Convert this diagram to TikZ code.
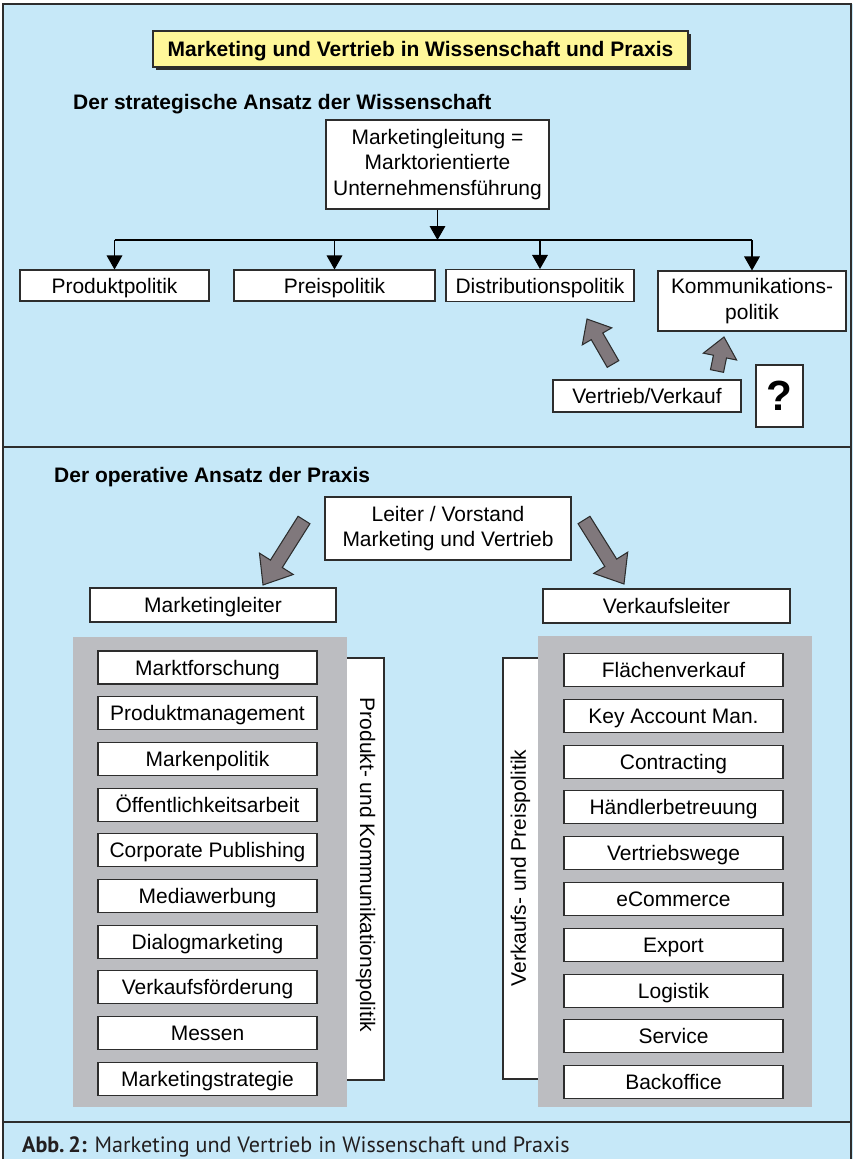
\documentclass[tikz,border=0pt]{standalone}
\usepackage{fontspec}
\setmainfont{Liberation Sans}
\newfontfamily\capfont{PT Sans}
\usetikzlibrary{arrows.meta,calc}
\definecolor{bgblue}{RGB}{198,232,248}
\definecolor{panelgrey}{RGB}{188,189,193}
\definecolor{arrowgrey}{RGB}{128,120,124}
\definecolor{titleyellow}{RGB}{255,247,153}
\definecolor{linegrey}{RGB}{45,45,45}
\definecolor{captext}{RGB}{35,31,32}
\newlength\pix
\setlength\pix{0.3mm}
\newcommand\diafont{\fontsize{17.9pt}{22pt}\selectfont}
\tikzset{
  box/.style={draw=linegrey,fill=white,line width=0.9pt,inner sep=0pt,align=center,font=\diafont},
  onebox/.style={box,text height=12.9pt,text depth=0pt},
  item/.style={onebox,minimum width=219\pix,minimum height=33\pix},
  tip/.style={line width=0.9pt,-{Triangle[length=4.2mm,width=4.7mm]}},
  fatarrow/.style={draw=linegrey,fill=arrowgrey,line width=0.9pt,line join=miter}
}
% fat grey arrow: from, to, half shaft, half head, head length
\newcommand\fatarrow[5]{%
  \path[fatarrow] let \p1=($(#2)-(#1)$), \n1={atan2(\y1,\x1)}, \n2={veclen(\x1,\y1)} in
    [shift={(#1)},rotate=\n1]
    (0pt,-#3) -- ({\n2-#5},-#3) -- ({\n2-#5},-#4) -- (\n2,0pt) -- ({\n2-#5},#4) -- ({\n2-#5},#3) -- (0pt,#3) -- cycle;}
\begin{document}
\begin{tikzpicture}[x=\pix,y=-\pix]
\useasboundingbox (0,0) rectangle (853,1159);
\fill[bgblue] (3,4) rectangle (853,1159);
\draw[linegrey,line width=1.2pt] (3,1170) -- (3,4) -- (851,4) -- (851,1170);
\draw[linegrey,line width=1.2pt] (3,447) -- (851,447);
\draw[linegrey,line width=1.2pt] (3,1122) -- (851,1122);

% Wissenschaft
\fill[linegrey] (156,34) rectangle (691,70);
\node[onebox,fill=titleyellow,font=\diafont\bfseries,minimum width=535\pix,minimum height=36\pix] (title) at (420.5,49) {Marketing und Vertrieb in Wissenschaft und Praxis};
\node[anchor=west,inner sep=0pt,font=\diafont\bfseries] (wiss) at (73,104) {Der strategische Ansatz der Wissenschaft};
\node[box,minimum width=223\pix,minimum height=89\pix] (mleit) at (437.5,164.5) {Marketingleitung =\\Marktorientierte\\Unternehmensführung};
\node[onebox,minimum width=189\pix,minimum height=31\pix] (prod) at (114.5,285.5) {Produktpolitik};
\node[onebox,minimum width=201\pix,minimum height=31\pix] (preis) at (334.5,285.5) {Preispolitik};
\node[onebox,minimum width=188\pix,minimum height=32\pix] (distr) at (540,285.5) {Distributionspolitik};
\node[box,minimum width=188\pix,minimum height=60\pix] (komm) at (752,301) {Kommunikations-\\politik};
\coordinate (bus) at (0,240);
\draw[tip] (mleit.south) -- (mleit.south |- bus);
\draw[line width=0.9pt] (prod.north |- bus) -- (komm.north |- bus);
\foreach \n in {prod,preis,distr,komm}
  \draw[tip] (\n.north |- bus) -- (\n.north);
\node[onebox,minimum width=188\pix,minimum height=32\pix] (vertr) at (647,396) {Vertrieb/Verkauf};
\node[box,minimum width=47\pix,minimum height=62\pix,font=\fontsize{36pt}{36pt}\bfseries] (quest) at (779.5,396) {?};
\coordinate (a1) at (613,364);
\coordinate (b1) at (587,319);
\coordinate (a2) at (717,371);
\coordinate (b2) at (724,337);
\fatarrow{a1}{b1}{2mm}{5.1mm}{6mm}
\fatarrow{a2}{b2}{2mm}{5.1mm}{6mm}

% Praxis
\node[anchor=west,inner sep=0pt,font=\diafont\bfseries] (prax) at (54,477) {Der operative Ansatz der Praxis};
\node[box,minimum width=246\pix,minimum height=63\pix] (leit) at (448,528.5) {Leiter / Vorstand\\Marketing und Vertrieb};
\node[onebox,minimum width=246\pix,minimum height=34\pix] (mkl) at (213,605) {Marketingleiter};
\node[onebox,minimum width=247\pix,minimum height=34\pix] (vkl) at (666.5,606) {Verkaufsleiter};
\coordinate (a3) at (304,520);
\coordinate (b3) at (263,585);
\coordinate (a4) at (584,520);
\coordinate (b4) at (624,584);
\fatarrow{a3}{b3}{2.1mm}{6mm}{7.5mm}
\fatarrow{a4}{b4}{2.1mm}{6mm}{7.5mm}

\node[box,minimum width=54\pix,minimum height=422\pix] (kside) at (357,869) {};
\node[box,minimum width=52\pix,minimum height=421\pix] (vside) at (529,868.5) {};
\fill[panelgrey] (73,637) rectangle (347,1107);
\fill[panelgrey] (538,636) rectangle (812,1107);
\node[rotate=-90,font=\diafont] (ktext) at (365.5,865) {Produkt- und Kommunikationspolitik};
\node[rotate=90,font=\diafont] (vtext) at (520.5,868) {Verkaufs- und Preispolitik};
\foreach \t [count=\i from 0] in {Marktforschung,Produktmanagement,Markenpolitik,Öffentlichkeitsarbeit,Corporate Publishing,Mediawerbung,Dialogmarketing,Verkaufsförderung,Messen,Marketingstrategie}
  \node[item] (ml\i) at (207.5,{667.5+45.7*\i}) {\t};
\foreach \t [count=\i from 0] in {Flächenverkauf,Key Account Man.,Contracting,Händlerbetreuung,Vertriebswege,eCommerce,Export,Logistik,Service,Backoffice}
  \node[item] (vk\i) at (673.5,{670+45.8*\i}) {\t};

\node[anchor=base west,inner sep=0pt,text=captext,font=\capfont\fontsize{18.9pt}{20pt}\selectfont] (cap) at (22,1152) {\textbf{Abb.\,2:} Marketing und Vertrieb in Wissenschaft und Praxis};
\end{tikzpicture}
\end{document}
